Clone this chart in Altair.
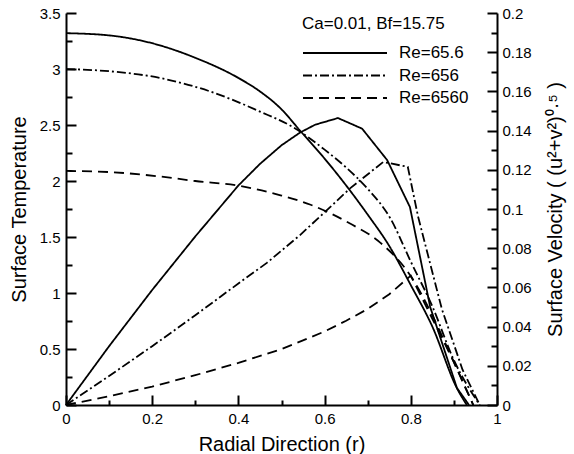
import altair as alt
import pandas as pd

FONT = "Liberation Sans"
W, H = 431, 392

series = ["Re=65.6", "Re=656", "Re=6560"]

# Surface temperature curves
r_t1 = [0, 0.1, 0.2, 0.3, 0.4, 0.45, 0.5, 0.543, 0.6, 0.65, 0.7, 0.75, 0.8, 0.85, 0.907, 0.93]
t1 = [3.32, 3.30, 3.23, 3.10, 2.92, 2.80, 2.64, 2.45, 2.20, 1.96, 1.70, 1.42, 1.07, 0.70, 0.15, 0.0]
r_t2 = [0, 0.1, 0.218, 0.334, 0.45, 0.527, 0.6, 0.65, 0.7, 0.752, 0.8, 0.85, 0.9, 0.96]
t2 = [3.0, 2.98, 2.92, 2.80, 2.62, 2.48, 2.28, 2.12, 1.93, 1.67, 1.28, 0.88, 0.40, 0.0]
r_t3 = [0, 0.1, 0.218, 0.3, 0.397, 0.5, 0.566, 0.659, 0.729, 0.8, 0.85, 0.9, 0.945]
t3 = [2.09, 2.08, 2.04, 2.00, 1.96, 1.87, 1.79, 1.62, 1.45, 1.15, 0.80, 0.38, 0.0]

# Surface velocity curves
r_v1 = [0, 0.1, 0.2, 0.3, 0.4, 0.45, 0.5, 0.543, 0.578, 0.631, 0.687, 0.745, 0.798, 0.845, 0.907, 0.935]
v1 = [0, 0.030, 0.0587, 0.086, 0.112, 0.123, 0.1325, 0.139, 0.143, 0.1464, 0.141, 0.125, 0.101, 0.050, 0.0087, 0]
r_v2 = [0, 0.1, 0.2, 0.3, 0.4, 0.466, 0.543, 0.596, 0.659, 0.736, 0.793, 0.817, 0.872, 0.92, 0.96]
v2 = [0, 0.0148, 0.030, 0.0458, 0.062, 0.0725, 0.0867, 0.0975, 0.1105, 0.124, 0.1215, 0.096, 0.049, 0.018, 0]
r_v3 = [0, 0.1, 0.2, 0.3, 0.4, 0.5, 0.6, 0.65, 0.7, 0.75, 0.8, 0.85, 0.9, 0.945]
v3 = [0, 0.0045, 0.0094, 0.0152, 0.0215, 0.0285, 0.0375, 0.043, 0.049, 0.0565, 0.066, 0.044, 0.022, 0]

# Axis tick values
x_major = [0, 0.2, 0.4, 0.6, 0.8, 1.0]
x_minor = [0.1, 0.3, 0.5, 0.7, 0.9]
t_major = [0, 0.5, 1, 1.5, 2, 2.5, 3, 3.5]
t_minor = [0.25, 0.75, 1.25, 1.75, 2.25, 2.75, 3.25]
v_major = [0, 0.02, 0.04, 0.06, 0.08, 0.1, 0.12, 0.14, 0.16, 0.18, 0.2]
v_minor = [0.01, 0.03, 0.05, 0.07, 0.09, 0.11, 0.13, 0.15, 0.17, 0.19]

temp_df = pd.concat([
    pd.DataFrame({"r": r_t1, "T": t1, "Re": series[0]}),
    pd.DataFrame({"r": r_t2, "T": t2, "Re": series[1]}),
    pd.DataFrame({"r": r_t3, "T": t3, "Re": series[2]}),
], ignore_index=True)
vel_df = pd.concat([
    pd.DataFrame({"r": r_v1, "V": v1, "Re": series[0]}),
    pd.DataFrame({"r": r_v2, "V": v2, "Re": series[1]}),
    pd.DataFrame({"r": r_v3, "V": v3, "Re": series[2]}),
], ignore_index=True)

x_scale = alt.Scale(domain=[0, 1], nice=False, zero=False)
t_scale = alt.Scale(domain=[0, 3.5], nice=False)
v_scale = alt.Scale(domain=[0, 0.2], nice=False)
dash_scale = alt.Scale(domain=series, range=[[1, 0], [9, 3, 2, 3], [10, 6]])

legend = alt.Legend(
    orient="none", legendX=236, legendY=3, direction="vertical",
    title="Ca=0.01, Bf=15.75", titleFont=FONT, titleFontSize=17,
    titleFontWeight="normal", titleColor="black", titlePadding=10,
    labelFont=FONT, labelFontSize=17, labelColor="black", labelOffset=11,
    symbolType="stroke", symbolSize=84 * 84, symbolStrokeWidth=2,
    symbolStrokeColor="black", clipHeight=20, rowPadding=2.5, padding=0,
)


def tick_axis(orient, offset, values, size):
    return alt.Axis(orient=orient, offset=offset, values=values, labels=False,
                    domain=False, ticks=True, tickSize=size, tickWidth=2,
                    tickColor="black", title=None, grid=False)


# Temperature lines with labelled left + bottom axes
temp_lines = alt.Chart(temp_df).mark_line(
    color="black", strokeWidth=1.8, interpolate="monotone"
).encode(
    x=alt.X("r:Q", scale=x_scale, axis=alt.Axis(
        orient="bottom", offset=0, values=x_major, format="~g", ticks=False, tickSize=0,
        domain=True, domainColor="black", domainWidth=2, labelFlush=False,
        labelPadding=6, labelFontSize=15, title="Radial Direction (r)",
        titleFontSize=20, titlePadding=8, grid=False)),
    y=alt.Y("T:Q", scale=t_scale, axis=alt.Axis(
        orient="left", offset=0, values=t_major, format="~g", ticks=False, tickSize=0,
        domain=True, domainColor="black", domainWidth=2, labelOverlap=False,
        labelPadding=6, labelFontSize=15, title="Surface Temperature",
        titleFontSize=20, titlePadding=10, grid=False)),
    strokeDash=alt.StrokeDash("Re:N", scale=dash_scale, legend=legend),
)

# inward ticks on the temperature / r scales
temp_major = alt.Chart(temp_df).mark_point(opacity=0).encode(
    x=alt.X("r:Q", scale=x_scale, axis=tick_axis("top", -H, x_major, 10)),
    y=alt.Y("T:Q", scale=t_scale, axis=tick_axis("right", -W, t_major, 10)),
)
temp_minor = alt.Chart(temp_df).mark_point(opacity=0).encode(
    x=alt.X("r:Q", scale=x_scale, axis=tick_axis("top", -H, x_minor, 5)),
    y=alt.Y("T:Q", scale=t_scale, axis=tick_axis("right", -W, t_minor, 6)),
)

# Velocity lines with labelled right axis
vel_lines = alt.Chart(vel_df).mark_line(color="black", strokeWidth=1.8).encode(
    x=alt.X("r:Q", scale=x_scale, axis=None),
    y=alt.Y("V:Q", scale=v_scale, axis=alt.Axis(
        orient="right", offset=0, values=v_major, format="~g", ticks=False, tickSize=0,
        domain=True, domainColor="black", domainWidth=2, labelOverlap=False,
        labelPadding=5, labelFontSize=15,
        title="Surface Velocity ( (u\u00b2+v\u00b2)\u2070\u00b7\u2075 )",
        titleAngle=270, titleFontSize=20, titlePadding=34, grid=False)),
    strokeDash=alt.StrokeDash("Re:N", scale=dash_scale, legend=legend),
)
vel_major = alt.Chart(vel_df).mark_point(opacity=0).encode(
    x=alt.X("r:Q", scale=x_scale, axis=None),
    y=alt.Y("V:Q", scale=v_scale, axis=tick_axis("left", -W, v_major, 10)),
)
vel_minor = alt.Chart(vel_df).mark_point(opacity=0).encode(
    x=alt.X("r:Q", scale=x_scale, axis=None),
    y=alt.Y("V:Q", scale=v_scale, axis=tick_axis("left", -W, v_minor, 6)),
)

chart = alt.layer(
    temp_lines, temp_major, temp_minor, vel_lines, vel_major, vel_minor
).resolve_scale(
    x="independent", y="independent"
).resolve_axis(
    x="independent", y="independent"
).properties(
    width=W, height=H,
    padding={"left": 66, "top": 13, "right": 77, "bottom": 49},
    autosize=alt.AutoSizeParams(type="none"),
    background="white",
).configure_view(
    stroke=None
).configure_axis(
    labelFont=FONT, titleFont=FONT, labelColor="black", titleColor="black",
    titleFontWeight="normal",
)

chart.save("out.html", embed_options={"renderer": "svg", "actions": False})
